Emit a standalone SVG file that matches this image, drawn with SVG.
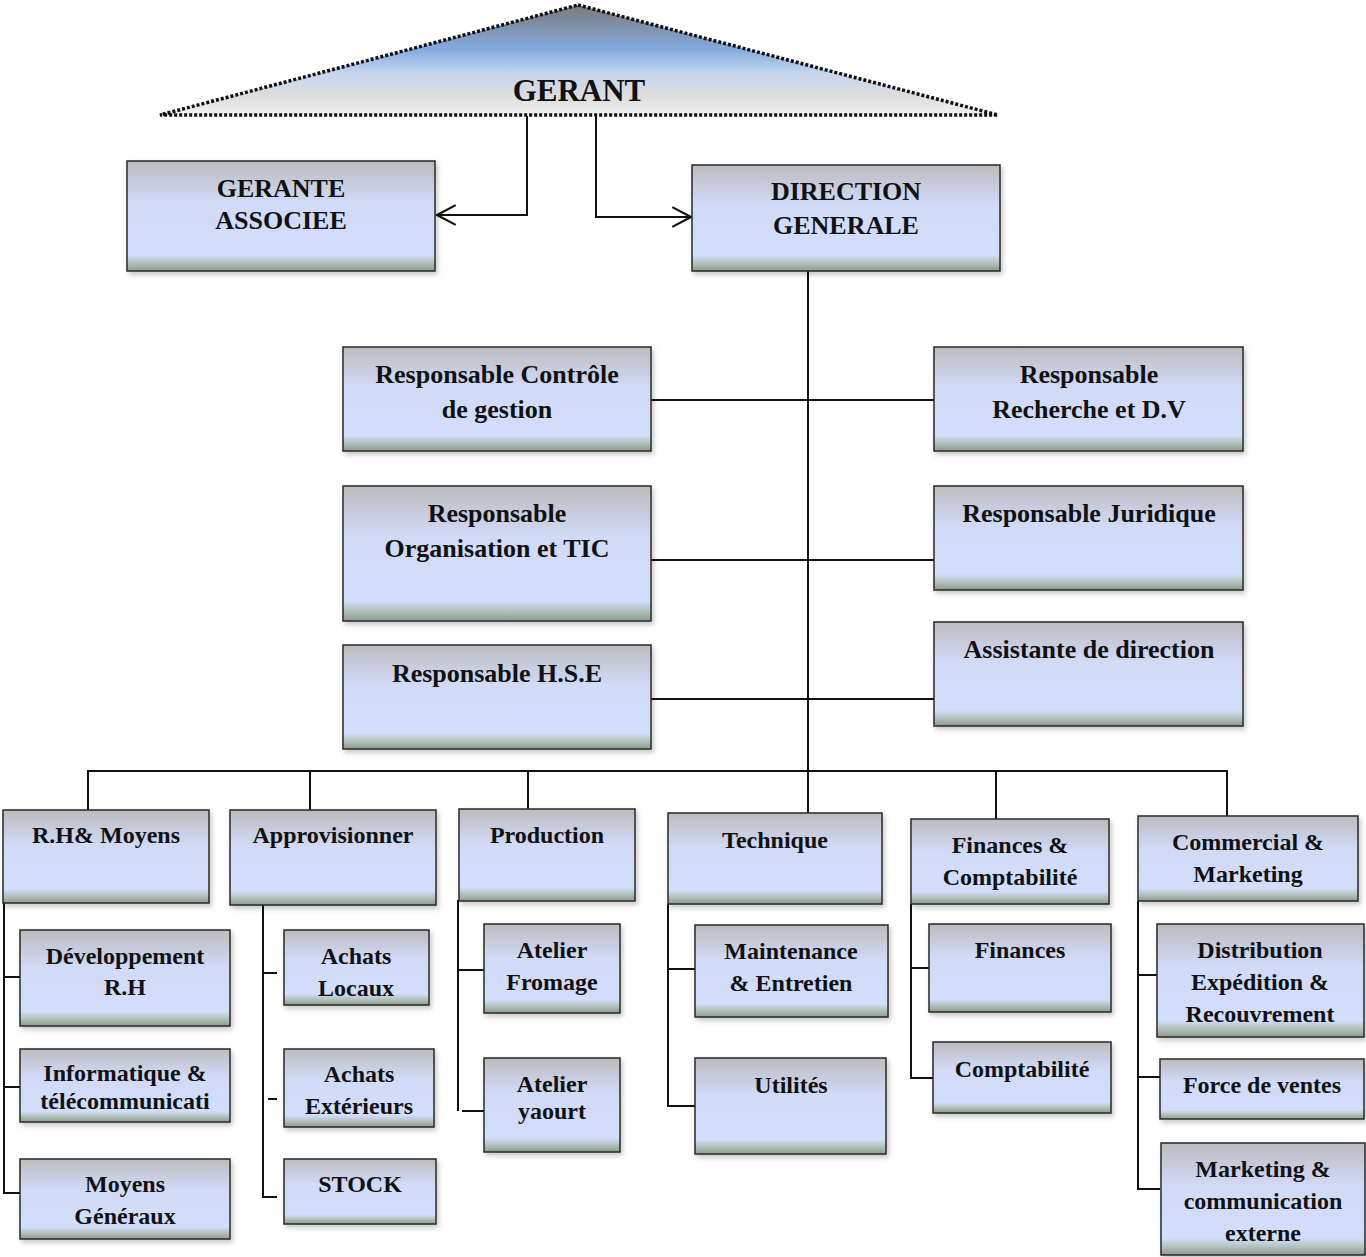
<svg xmlns="http://www.w3.org/2000/svg" width="1366" height="1257" viewBox="0 0 1366 1257">
<defs>
<linearGradient id="boxg" x1="0" y1="0" x2="0" y2="1">
<stop offset="0" stop-color="#bcbcbf"/>
<stop offset="0.38" stop-color="#d1daf7"/>
<stop offset="0.85" stop-color="#d3defc"/>
<stop offset="0.92" stop-color="#b6c3c2"/>
<stop offset="1" stop-color="#8b9d8b"/>
</linearGradient>
<linearGradient id="trig" x1="0" y1="0" x2="0" y2="1">
<stop offset="0" stop-color="#7a7a7c"/>
<stop offset="0.4" stop-color="#84aade"/>
<stop offset="0.62" stop-color="#c5d6ef"/>
<stop offset="0.82" stop-color="#dcdcdc"/>
<stop offset="1" stop-color="#f2f2f4"/>
</linearGradient>
<filter id="sh" x="-5%" y="-5%" width="115%" height="125%">
<feDropShadow dx="2" dy="3" stdDeviation="2.5" flood-color="#000" flood-opacity="0.22"/>
</filter>
<marker id="arr" markerUnits="userSpaceOnUse" markerWidth="22" markerHeight="22" viewBox="0 0 20 20" refX="18" refY="10" orient="auto">
<path d="M1,1 L18,10 L1,19" fill="none" stroke="#111" stroke-width="2"/>
</marker>
</defs>
<style>
.b{fill:url(#boxg);stroke:#2a2a2a;stroke-width:1.5;filter:url(#sh)}
.t{font-family:"Liberation Serif","Times New Roman",serif;font-weight:bold;fill:#111;text-anchor:middle}
.l{font-size:26px}
.s{font-size:24px}
.c{fill:none;stroke:#111;stroke-width:2}
</style>
<rect width="1366" height="1257" fill="#fff"/>

<g id="connectors">
<path class="c" d="M527,116 V215 H437" marker-end="url(#arr)"/>
<path class="c" d="M596,116 V217 H691" marker-end="url(#arr)"/>
<path class="c" d="M808,271 V825"/>
<path class="c" d="M651,400 H934"/>
<path class="c" d="M651,560 H934"/>
<path class="c" d="M651,699 H934"/>
<path class="c" d="M88,816 V771 H1227 V826"/>
<path class="c" d="M310,771 V814"/>
<path class="c" d="M528,771 V820"/>
<path class="c" d="M996,771 V831"/>
<path class="c" d="M4,903 V1193 H20"/>
<path class="c" d="M4,977 H20 M4,1087 H20"/>
<path class="c" d="M263,905 V1197 H277"/>
<path class="c" d="M263,973 H277 M268,1099 H277"/>
<path class="c" d="M458,900 V1111"/>
<path class="c" d="M458,970 H484 M462,1111 H484"/>
<path class="c" d="M668,904 V1106 H695"/>
<path class="c" d="M668,969 H695"/>
<path class="c" d="M911,904 V1078 H933"/>
<path class="c" d="M911,968 H929"/>
<path class="c" d="M1138,901 V1189 H1160"/>
<path class="c" d="M1138,975 H1157 M1138,1077 H1160"/>
</g>

<g id="gerant">
<polygon points="578,5 998,115 160,115" fill="url(#trig)" stroke="#111" stroke-width="3.5" stroke-dasharray="3 2"/>
<text class="t" x="579" y="101" font-size="31">GERANT</text>
</g>

<g id="gerante-associee">
<rect class="b" x="127" y="161" width="308" height="110"/>
<text class="t l" x="281" y="197">GERANTE</text>
<text class="t l" x="281" y="229">ASSOCIEE</text>
</g>

<g id="direction-generale">
<rect class="b" x="692" y="165" width="308" height="106"/>
<text class="t l" x="846" y="200">DIRECTION</text>
<text class="t l" x="846" y="234">GENERALE</text>
</g>

<g id="resp-controle">
<rect class="b" x="343" y="347" width="308" height="104"/>
<text class="t l" x="497" y="383">Responsable Contrôle</text>
<text class="t l" x="497" y="418">de gestion</text>
</g>

<g id="resp-organisation">
<rect class="b" x="343" y="486" width="308" height="135"/>
<text class="t l" x="497" y="522">Responsable</text>
<text class="t l" x="497" y="557">Organisation et TIC</text>
</g>

<g id="resp-hse">
<rect class="b" x="343" y="645" width="308" height="104"/>
<text class="t l" x="497" y="682">Responsable H.S.E</text>
</g>

<g id="resp-recherche">
<rect class="b" x="934" y="347" width="309" height="104"/>
<text class="t l" x="1089" y="383">Responsable</text>
<text class="t l" x="1089" y="418">Recherche et D.V</text>
</g>

<g id="resp-juridique">
<rect class="b" x="934" y="486" width="309" height="104"/>
<text class="t l" x="1089" y="522">Responsable Juridique</text>
</g>

<g id="assistante">
<rect class="b" x="934" y="622" width="309" height="104"/>
<text class="t l" x="1089" y="658">Assistante de direction</text>
</g>

<g id="rh-moyens">
<rect class="b" x="3" y="810" width="206" height="93"/>
<text class="t s" x="106" y="843">R.H&amp; Moyens</text>
</g>

<g id="approvisionner">
<rect class="b" x="230" y="810" width="206" height="95"/>
<text class="t s" x="333" y="843">Approvisionner</text>
</g>

<g id="production">
<rect class="b" x="459" y="809" width="176" height="92"/>
<text class="t s" x="547" y="843">Production</text>
</g>

<g id="technique">
<rect class="b" x="668" y="813" width="214" height="91"/>
<text class="t s" x="775" y="848">Technique</text>
</g>

<g id="finances-comptabilite">
<rect class="b" x="911" y="819" width="198" height="85"/>
<text class="t s" x="1010" y="853">Finances &amp;</text>
<text class="t s" x="1010" y="885">Comptabilité</text>
</g>

<g id="commercial-marketing">
<rect class="b" x="1138" y="816" width="220" height="85"/>
<text class="t s" x="1248" y="850">Commercial &amp;</text>
<text class="t s" x="1248" y="882">Marketing</text>
</g>

<g id="developpement-rh">
<rect class="b" x="20" y="930" width="210" height="96"/>
<text class="t s" x="125" y="964">Développement</text>
<text class="t s" x="125" y="995">R.H</text>
</g>

<g id="informatique">
<rect class="b" x="20" y="1049" width="210" height="73"/>
<text class="t s" x="125" y="1081">Informatique &amp;</text>
<text class="t s" x="125" y="1109">télécommunicati</text>
</g>

<g id="moyens-generaux">
<rect class="b" x="20" y="1159" width="210" height="80"/>
<text class="t s" x="125" y="1192">Moyens</text>
<text class="t s" x="125" y="1224">Généraux</text>
</g>

<g id="achats-locaux">
<rect class="b" x="284" y="930" width="145" height="75"/>
<text class="t s" x="356" y="964">Achats</text>
<text class="t s" x="356" y="996">Locaux</text>
</g>

<g id="achats-exterieurs">
<rect class="b" x="284" y="1049" width="150" height="78"/>
<text class="t s" x="359" y="1082">Achats</text>
<text class="t s" x="359" y="1114">Extérieurs</text>
</g>

<g id="stock">
<rect class="b" x="284" y="1159" width="152" height="65"/>
<text class="t s" x="360" y="1192">STOCK</text>
</g>

<g id="atelier-fromage">
<rect class="b" x="484" y="924" width="136" height="89"/>
<text class="t s" x="552" y="958">Atelier</text>
<text class="t s" x="552" y="990">Fromage</text>
</g>

<g id="atelier-yaourt">
<rect class="b" x="484" y="1058" width="136" height="94"/>
<text class="t s" x="552" y="1092">Atelier</text>
<text class="t s" x="552" y="1119">yaourt</text>
</g>

<g id="maintenance">
<rect class="b" x="695" y="925" width="193" height="92"/>
<text class="t s" x="791" y="959">Maintenance</text>
<text class="t s" x="791" y="991">&amp; Entretien</text>
</g>

<g id="utilites">
<rect class="b" x="695" y="1058" width="191" height="96"/>
<text class="t s" x="791" y="1093">Utilités</text>
</g>

<g id="finances">
<rect class="b" x="929" y="924" width="182" height="88"/>
<text class="t s" x="1020" y="958">Finances</text>
</g>

<g id="comptabilite">
<rect class="b" x="933" y="1042" width="178" height="71"/>
<text class="t s" x="1022" y="1077">Comptabilité</text>
</g>

<g id="distribution">
<rect class="b" x="1157" y="924" width="207" height="113"/>
<text class="t s" x="1260" y="958">Distribution</text>
<text class="t s" x="1260" y="990">Expédition &amp;</text>
<text class="t s" x="1260" y="1022">Recouvrement</text>
</g>

<g id="force-ventes">
<rect class="b" x="1160" y="1059" width="204" height="60"/>
<text class="t s" x="1262" y="1093">Force de ventes</text>
</g>

<g id="marketing-communication">
<rect class="b" x="1161" y="1143" width="204" height="112"/>
<text class="t s" x="1263" y="1177">Marketing &amp;</text>
<text class="t s" x="1263" y="1209">communication</text>
<text class="t s" x="1263" y="1241">externe</text>
</g>
</svg>
